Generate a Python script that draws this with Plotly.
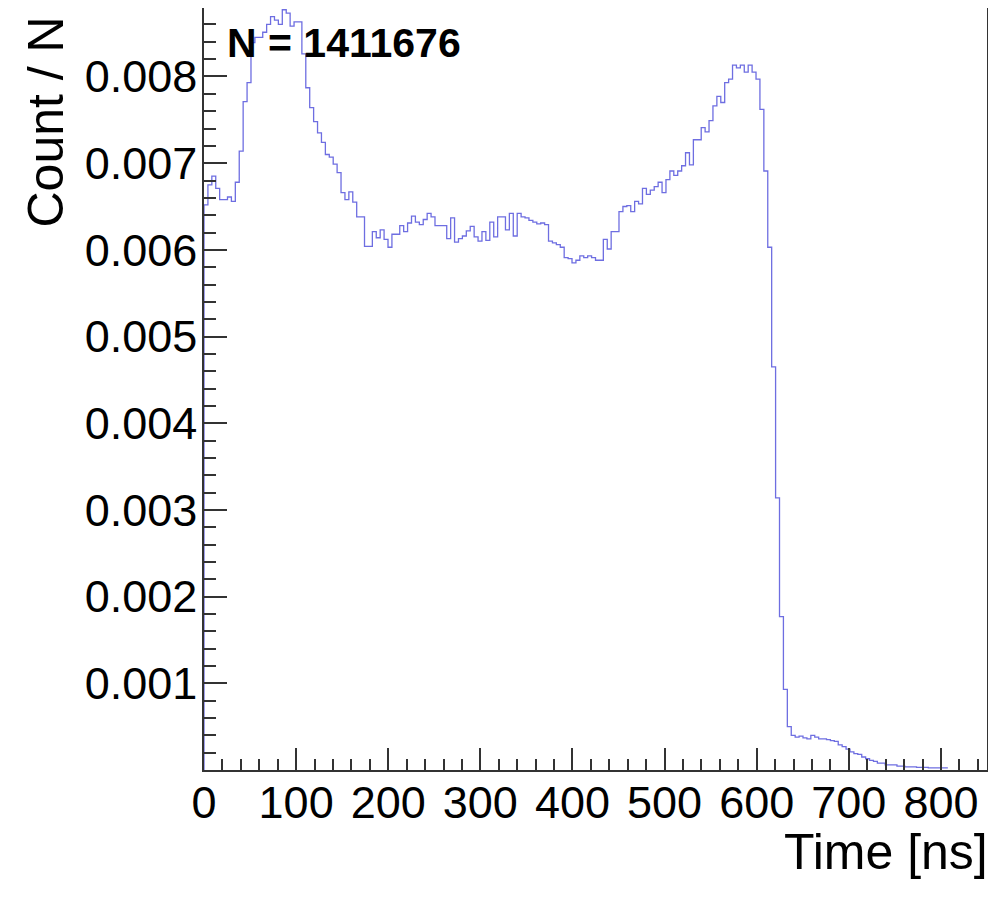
import numpy as np
import plotly.graph_objects as go

# ---- data ----
BIN_WIDTH = 4.25  # ns
counts = [
    0.00652, 0.00675, 0.00685, 0.00671, 0.00658, 0.00658, 0.00661, 0.00656, 0.00678, 0.00714,
    0.00771, 0.00793, 0.00839, 0.00845, 0.00845, 0.00851, 0.00860, 0.00869, 0.00865, 0.00860,
    0.00877, 0.00873, 0.00858, 0.00863, 0.00863, 0.00826, 0.00787, 0.00764, 0.00748, 0.00735,
    0.00724, 0.00710, 0.00707, 0.00699, 0.00689, 0.00666, 0.00658, 0.00667, 0.00655, 0.00638,
    0.00638, 0.00604, 0.00604, 0.00621, 0.00614, 0.00623, 0.00612, 0.00603, 0.00618, 0.00618,
    0.00628, 0.00621, 0.00631, 0.00639, 0.00632, 0.00629, 0.00635, 0.00642, 0.00638, 0.00628,
    0.00628, 0.00628, 0.00613, 0.00637, 0.00609, 0.00613, 0.00616, 0.00622, 0.00627, 0.00615,
    0.00610, 0.00621, 0.00611, 0.00632, 0.00615, 0.00638, 0.00638, 0.00623, 0.00642, 0.00616,
    0.00642, 0.00638, 0.00637, 0.00634, 0.00632, 0.00630, 0.00631, 0.00629, 0.00610, 0.00608,
    0.00606, 0.00603, 0.00591, 0.00590, 0.00585, 0.00588, 0.00593, 0.00591, 0.00593, 0.00591,
    0.00588, 0.00588, 0.00612, 0.00601, 0.00621, 0.00621, 0.00644, 0.00650, 0.00651, 0.00644,
    0.00656, 0.00653, 0.00671, 0.00664, 0.00669, 0.00673, 0.00678, 0.00666, 0.00681, 0.00691,
    0.00686, 0.00691, 0.00697, 0.00712, 0.00698, 0.00727, 0.00727, 0.00741, 0.00736, 0.00749,
    0.00766, 0.00777, 0.00770, 0.00793, 0.00797, 0.00813, 0.00810, 0.00813, 0.00805, 0.00813,
    0.00805, 0.00797, 0.00762, 0.00691, 0.00603, 0.00465, 0.00314, 0.00177, 0.00093, 0.00050,
    0.00040, 0.00038, 0.00039, 0.00037, 0.00036, 0.00040, 0.00038, 0.00036, 0.00036, 0.00035,
    0.00034, 0.00033, 0.00029, 0.00027, 0.00024, 0.00021, 0.00019, 0.00018, 0.00015, 0.00013,
    0.00011, 0.00010, 0.00008, 0.00008, 0.00006, 0.00006, 0.00006, 0.000045, 0.000045, 0.000037,
    0.000037, 0.000037, 0.00003, 0.00003, 0.00003, 0.000025, 0.000025, 0.000025, 0.000025, 0.000025,
]
x_tick_vals = [0, 100, 200, 300, 400, 500, 600, 700, 800]
x_tick_text = ["0", "100", "200", "300", "400", "500", "600", "700", "800"]
y_tick_vals = [0.001, 0.002, 0.003, 0.004, 0.005, 0.006, 0.007, 0.008]
y_tick_text = ["0.001", "0.002", "0.003", "0.004", "0.005", "0.006", "0.007", "0.008"]
n_entries_label = "N = 1411676"
x_title = "Time [ns]"
y_title = "Count / N"

# ---- histogram outline ----
edges = np.arange(len(counts) + 1) * BIN_WIDTH
xs = np.concatenate([[edges[0]], edges])
ys = np.concatenate([[0.0], counts, [counts[-1]]])

FONT = "Liberation Sans, Arial, Helvetica, sans-serif"
OFF = 8  # page body margin
W, H = 988, 892
# frame in page pixels: left 204, right 987, top 8, bottom 770
L = 204 - OFF
T = 8 - OFF
R = W - (987 - OFF)
B = H - (770 - OFF)

fig = go.Figure()
fig.add_trace(go.Scatter(
    x=xs, y=ys, mode="lines", line=dict(shape="hv", color="rgb(110,110,225)", width=1.3),
    hoverinfo="skip", showlegend=False, cliponaxis=True,
))

fig.update_layout(
    template="none",
    width=W, height=H,
    margin=dict(l=L, r=R, t=T, b=B, pad=0, autoexpand=False),
    paper_bgcolor="white", plot_bgcolor="white",
    font=dict(family=FONT, color="black", size=45),
    showlegend=False,
)

fig.update_xaxes(
    range=[0, 850], showgrid=False, zeroline=False, automargin=False,
    showline=True, linecolor="#333333", linewidth=1.5, mirror=True,
    ticks="inside", ticklen=22, tickwidth=1.5, tickcolor="#333333",
    tickmode="array", tickvals=x_tick_vals, ticktext=x_tick_text,
    tickfont=dict(size=45, family=FONT),
    ticklabelstandoff=-8,
    minor=dict(ticks="inside", ticklen=11, tickwidth=1.5, tickcolor="#333333", dtick=20, tick0=0, showgrid=False),
)
fig.update_yaxes(
    range=[0, 0.00879], showgrid=False, zeroline=False, automargin=False,
    showline=True, linecolor="#333333", linewidth=1.5, mirror=True,
    ticks="inside", ticklen=23, tickwidth=1.5, tickcolor="#333333",
    tickmode="array", tickvals=y_tick_vals, ticktext=y_tick_text,
    tickfont=dict(size=45, family=FONT),
    ticklabelstandoff=-4,
    minor=dict(ticks="inside", ticklen=12, tickwidth=1.5, tickcolor="#333333", dtick=0.0002, tick0=0, showgrid=False),
)

pw = W - L - R
ph = H - T - B


def px_x(page_x):
    return (page_x - OFF - L) / pw


def px_y(page_y):
    return (H - B - (page_y - OFF)) / ph


fig.add_annotation(
    text="<b>" + n_entries_label + "</b>", xref="paper", yref="paper",
    x=px_x(225), y=px_y(43), xanchor="left", yanchor="middle",
    showarrow=False, font=dict(size=41, family=FONT, color="black"),
)
fig.add_annotation(
    text=x_title, xref="paper", yref="paper",
    x=px_x(990), y=px_y(852), xanchor="right", yanchor="middle",
    showarrow=False, font=dict(size=50, family=FONT, color="black"),
)
fig.add_annotation(
    text=y_title, xref="paper", yref="paper", textangle=-90,
    x=px_x(45), y=px_y(15), xanchor="center", yanchor="top",
    showarrow=False, font=dict(size=50, family=FONT, color="black"),
)

fig.write_html("out.html")
